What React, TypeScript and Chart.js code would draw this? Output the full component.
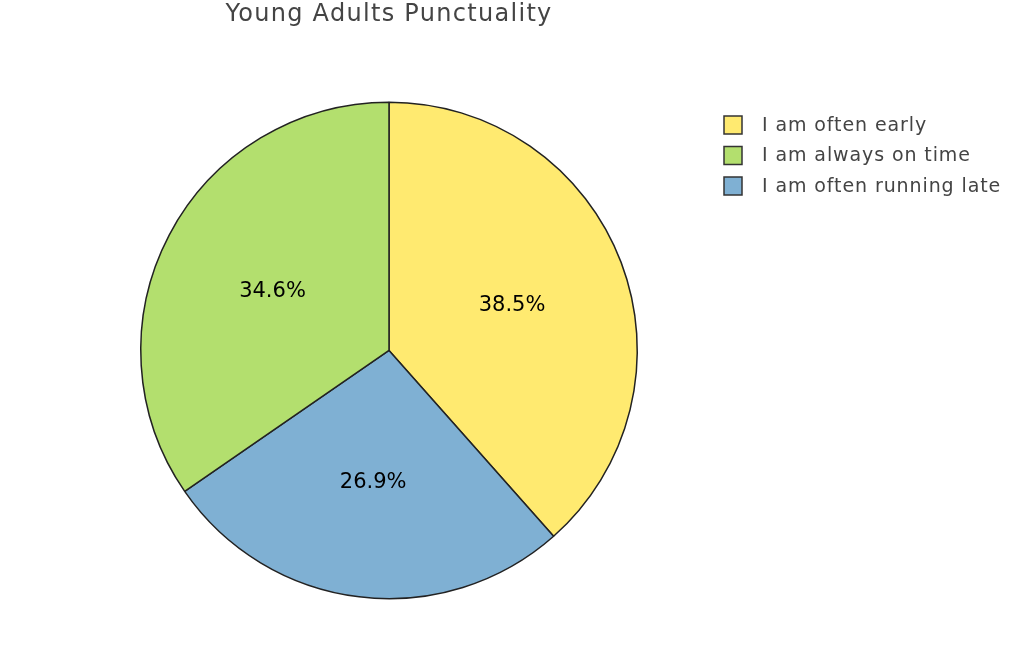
import React, { useEffect, useRef } from "react";
import { Chart, registerables } from "chart.js";

Chart.register(...registerables);

const title = "Young Adults Punctuality";
const categories = ["I am often early", "I am always on time", "I am often running late"];
const values = [10, 9, 7];
const colors = ["#FFEA70", "#B3DF6E", "#7FB0D3"];
// clockwise drawing order of the slices (indices into the arrays above)
const sliceOrder = [0, 2, 1];

const FONT = "'DejaVu Sans', Verdana, sans-serif";

const spacingPlugin = {
  id: "titleSpacing",
  beforeDraw(chart: any) {
    (chart.ctx as any).letterSpacing = "1.3px";
  },
  afterDraw(chart: any) {
    (chart.ctx as any).letterSpacing = "0px";
  },
};

const labelPlugin = {
  id: "sliceLabels",
  afterDatasetsDraw(chart: any) {
    const ctx = chart.ctx;
    const meta = chart.getDatasetMeta(0);
    const data = chart.data.datasets[0].data as number[];
    const total = data.reduce((a, b) => a + b, 0);
    ctx.save();
    (ctx as any).letterSpacing = "0px";
    ctx.font = `21px ${FONT}`;
    ctx.fillStyle = "#000";
    ctx.textAlign = "center";
    ctx.textBaseline = "middle";
    meta.data.forEach((arc: any, i: number) => {
      const { x, y, startAngle, endAngle, outerRadius } = arc.getProps(
        ["x", "y", "startAngle", "endAngle", "outerRadius"],
        true
      );
      const mid = (startAngle + endAngle) / 2;
      const r = outerRadius * 0.53;
      const pct = ((data[i] / total) * 100).toFixed(1) + "%";
      ctx.fillText(pct, x + Math.cos(mid) * r, y + Math.sin(mid) * r + 2);
    });
    ctx.restore();
  },
};

const legendPlugin = {
  id: "sideLegend",
  afterDraw(chart: any) {
    const ctx = chart.ctx;
    ctx.save();
    (ctx as any).letterSpacing = "0.9px";
    ctx.font = `19px ${FONT}`;
    ctx.textBaseline = "middle";
    ctx.textAlign = "left";
    categories.forEach((c, i) => {
      const cy = 125 + i * 30.5;
      ctx.fillStyle = colors[i];
      ctx.fillRect(724, cy - 9, 18, 18);
      ctx.strokeStyle = "#333";
      ctx.lineWidth = 1.5;
      ctx.strokeRect(724, cy - 9, 18, 18);
      ctx.fillStyle = "#444";
      ctx.fillText(c, 762, cy + 1);
    });
    ctx.restore();
  },
};

export default function App() {
  const ref = useRef<HTMLCanvasElement>(null);
  useEffect(() => {
    if (!ref.current) return;
    const chart = new Chart(ref.current, {
      type: "pie",
      data: {
        labels: sliceOrder.map((i) => categories[i]),
        datasets: [
          {
            data: sliceOrder.map((i) => values[i]),
            backgroundColor: sliceOrder.map((i) => colors[i]),
            borderColor: "#222",
            borderWidth: 1.5,
          },
        ],
      },
      options: {
        responsive: false,
        animation: false,
        layout: { padding: { left: 140, right: 386, top: 0, bottom: 58 } },
        plugins: {
          legend: { display: false },
          tooltip: { enabled: false },
          title: {
            display: true,
            text: title,
            color: "#444",
            font: { family: FONT, size: 24, weight: "normal" },
            padding: { top: 0, bottom: 72 },
          },
        },
      },
      plugins: [spacingPlugin, labelPlugin, legendPlugin],
    });
    return () => chart.destroy();
  }, []);
  return (
    <div style={{ position: "absolute", left: 0, top: 0, width: 1024, height: 658, background: "#fff" }}>
      <canvas ref={ref} width={1024} height={658} style={{ width: 1024, height: 658 }} />
    </div>
  );
}
